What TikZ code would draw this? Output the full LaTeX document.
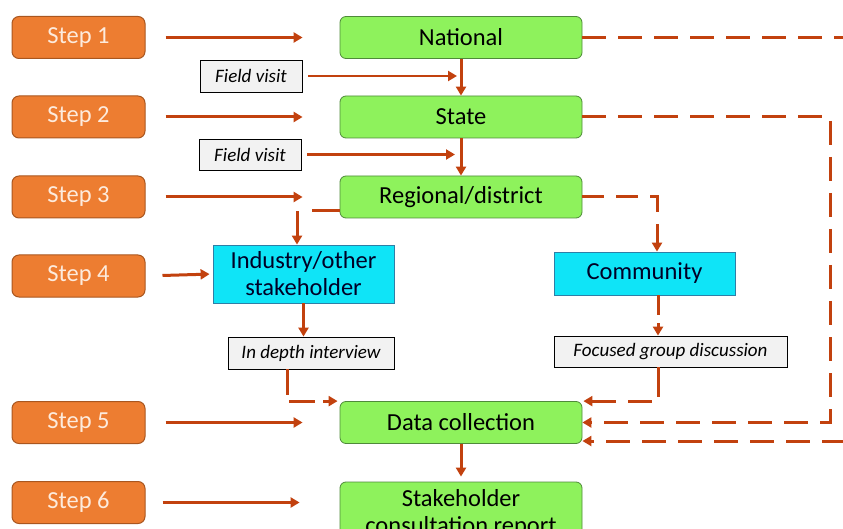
\documentclass[tikz,border=0pt]{standalone}
\usepackage{fontspec}
\setmainfont{Carlito}
\usetikzlibrary{arrows.meta}
\definecolor{stepfill}{HTML}{ED7D31}
\definecolor{stepdraw}{HTML}{A9561F}
\definecolor{gfill}{HTML}{8EF25C}
\definecolor{gdraw}{HTML}{4F8A3A}
\definecolor{cfill}{HTML}{0FE4F7}
\definecolor{cdraw}{HTML}{2E7FA6}
\definecolor{arrc}{HTML}{C2410E}
\definecolor{lfill}{HTML}{F2F2F2}
\definecolor{steptext}{HTML}{FDEBDD}
\begin{document}
\begin{tikzpicture}[x=1pt,y=-1pt,
  mainfont/.style={font=\fontsize{24.5}{27}\selectfont},
  stepbox/.style={draw=stepdraw, fill=stepfill, rounded corners=7pt, minimum width=133pt, minimum height=42pt, text=steptext, mainfont, inner sep=0pt, line width=1pt},
  gbox/.style={draw=gdraw, fill=gfill, rounded corners=6pt, minimum width=242pt, minimum height=42pt, inner sep=0pt, mainfont, line width=0.8pt, align=center},
  cbox/.style={draw=cdraw, fill=cfill, minimum width=181pt, inner sep=0pt, mainfont, line width=0.8pt, align=center, text=black!85!blue},
  lbox/.style={draw=black, fill=lfill, minimum height=32pt, inner sep=0pt, font=\fontsize{19}{22}\selectfont\itshape, line width=0.8pt},
  tip/.style={-{Triangle[length=9pt,width=10pt]}},
  sarr/.style={draw=arrc, line width=3pt, tip},
  darr/.style={draw=arrc, line width=3pt, dash pattern=on 24pt off 12pt, tip}
]
\useasboundingbox (0,0) rectangle (843,529);

% step boxes
\node[stepbox] (s1) at (78.5,37.5) {Step 1};
\node[stepbox] (s2) at (78.5,117) {Step 2};
\node[stepbox] (s3) at (78.5,197) {Step 3};
\node[stepbox] (s4) at (78.5,276) {Step 4};
\node[stepbox] (s5) at (78.5,422.5) {Step 5};
\node[stepbox] (s6) at (78.5,502.5) {Step 6};

% green boxes
\node[gbox] (nat) at (461,37.5) {National};
\node[gbox] (sta) at (461,117) {State};
\node[gbox] (reg) at (461,197) {Regional/district};
\node[gbox] (dc) at (461,422.5) {Data collection};
\node[gbox, minimum height=62pt] (rep) at (461,513) {Stakeholder\\consultation report};

% cyan boxes
\node[cbox, minimum height=58pt] (ind) at (303.5,274) {Industry/other\\stakeholder};
\node[cbox, minimum height=43pt] (com) at (644.5,273.5) {Community};

% label boxes
\node[lbox, minimum width=102pt] (f1) at (251,76) {Field visit};
\node[lbox, minimum width=102pt, minimum height=31pt] (f2) at (250,154.5) {Field visit};
\node[lbox, minimum width=166pt] (idi) at (311,353) {In depth interview};
\node[lbox, minimum width=233pt, minimum height=31pt] (fgd) at (670.5,351.5) {Focused group discussion};

% step arrows
\draw[sarr, shorten <=20pt, shorten >=37pt] (s1.east) -- (nat.west);
\draw[sarr, shorten <=20pt, shorten >=37pt] (s2.east) -- (sta.west);
\draw[sarr, shorten <=20pt, shorten >=37pt] (s3.east) -- (reg.west);
\draw[sarr, shorten <=17pt, shorten >=3pt] (s4.east) -- (ind.west);
\draw[sarr, shorten <=20pt, shorten >=37pt] (s5.east) -- (dc.west);
\draw[sarr, shorten <=17pt, shorten >=40pt] (s6.east) -- (s6.east -| rep.west);

% field visits and vertical flow
\draw[sarr, line width=2.6pt, shorten <=6pt, shorten >=4pt] (f1.east) -- (f1.east -| nat.south);
\draw[sarr, line width=2.6pt, shorten <=6pt, shorten >=6pt] (f2.east) -- (f2.east -| sta.south);
\draw[sarr] (nat.south) -- (sta.north);
\draw[sarr] (sta.south) -- (reg.north);

% regional to industry / community
\draw[darr, dash pattern=on 28pt off 15pt] ([yshift=-14pt]reg.west) -| ([xshift=-6.5pt]ind.north);
\draw[darr, dash pattern=on 22pt off 12pt] (reg.east) -| ([xshift=12.5pt]com.north);

% down to labels
\draw[sarr] (ind.south) -- (ind.south |- idi.north);
\draw[darr, dash pattern=on 20pt off 8pt] ([xshift=13.5pt]com.south) -- ([xshift=13.5pt]com.south |- fgd.north);

% labels to data collection
\draw[darr, dash pattern=on 26pt off 8pt, shorten >=2pt] ([xshift=-24pt]idi.south) |- (dc.north west);
\draw[darr, dash pattern=on 30pt off 10pt on 24pt off 12pt, shorten >=1pt] ([xshift=-12.5pt]fgd.south) |- (dc.north east);

% state and national to data collection
\draw[darr] (sta.east) -- ++(248,0) |- (dc.east);
\draw[darr] (nat.east) -- ++(290,0) |- ([yshift=-18.5pt]dc.east);

% data to report
\draw[sarr, shorten >=5pt] (dc.south) -- (rep.north);
\end{tikzpicture}
\end{document}
